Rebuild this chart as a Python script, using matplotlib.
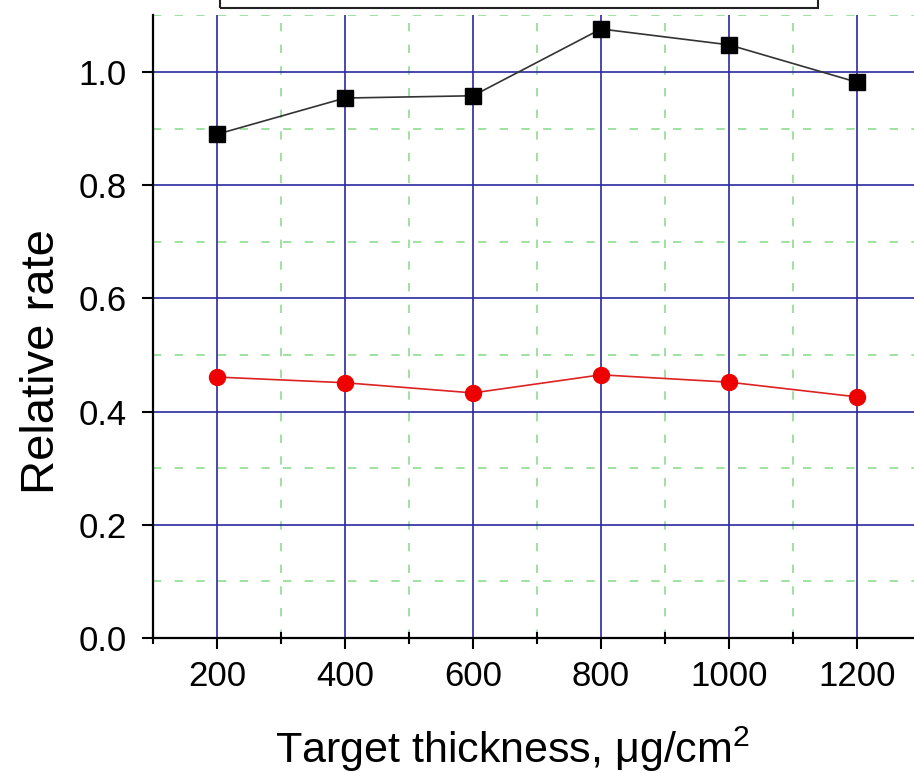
import matplotlib.pyplot as plt
from matplotlib.patches import Rectangle
from matplotlib.ticker import MultipleLocator

plt.rcParams['font.family'] = ['Liberation Sans', 'DejaVu Sans']
plt.rcParams['mathtext.fontset'] = 'custom'
plt.rcParams['mathtext.rm'] = 'Liberation Sans'

# Datos
espesor = [200, 400, 600, 800, 1000, 1200]
tasa_negra = [0.890, 0.954, 0.958, 1.076, 1.048, 0.982]
tasa_roja = [0.461, 0.451, 0.433, 0.465, 0.452, 0.426]

fig = plt.figure(figsize=(9.14, 7.73), dpi=100)
# el eje se sale por la derecha, como en la imagen recortada
ax = fig.add_axes([153 / 914, 135 / 773, 768 / 914, 622.6 / 773])

ax.plot(espesor, tasa_negra, color='#333333', linewidth=1.2, marker='s',
        markersize=11, markerfacecolor='black', markeredgecolor='black', zorder=3)
ax.plot(espesor, tasa_roja, color='#dd2222', linewidth=1.2, marker='o',
        markersize=11.5, markerfacecolor='#ee0000', markeredgecolor='#ee0000', zorder=3)

ax.set_xlim(100, 1300)
ax.set_ylim(0, 1.10)
ax.xaxis.set_major_locator(MultipleLocator(200))
ax.xaxis.set_minor_locator(MultipleLocator(100))
ax.yaxis.set_major_locator(MultipleLocator(0.2))
ax.yaxis.set_minor_locator(MultipleLocator(0.1))
ax.yaxis.set_major_formatter(plt.FuncFormatter(lambda v, p: f'{v:.1f}'))

# Rejilla: azul para las marcas principales, verde discontinua para las secundarias
ax.set_axisbelow(True)
ax.grid(True, which='major', color='#2a2aa0', linewidth=1.2, linestyle='-')
ax.grid(True, which='minor', color='#8fdc8f', linewidth=1.2, linestyle=(0, (5, 8)))

for lado in ['top', 'right']:
    ax.spines[lado].set_visible(False)
for lado in ['left', 'bottom']:
    ax.spines[lado].set_linewidth(1.6)

ax.tick_params(which='major', direction='out', length=8, width=1.5, labelsize=25)
ax.tick_params(axis='x', which='major', pad=8)
ax.tick_params(axis='y', which='major', pad=11)
ax.tick_params(which='minor', direction='inout', length=8, width=1.5)
ax.tick_params(axis='y', which='minor', left=True, length=0)

ax.set_ylabel('Relative rate', fontsize=34, va='center')
ax.yaxis.set_label_coords((42 - 153) / 768, (638 - 361) / 623)
ax.set_xlabel(r'Target thickness, μg/cm$^2$', fontsize=31, va='baseline')
ax.xaxis.set_label_coords((512 - 153) / 768, (638 - 763) / 623)

# Borde inferior de la leyenda, cortada por arriba
fig.patches.append(Rectangle((220 / 914, 765 / 773), 598 / 914, 30 / 773,
                             transform=fig.transFigure, fill=False,
                             edgecolor='#222222', linewidth=1.5))

fig.savefig('out.png', dpi=100)
